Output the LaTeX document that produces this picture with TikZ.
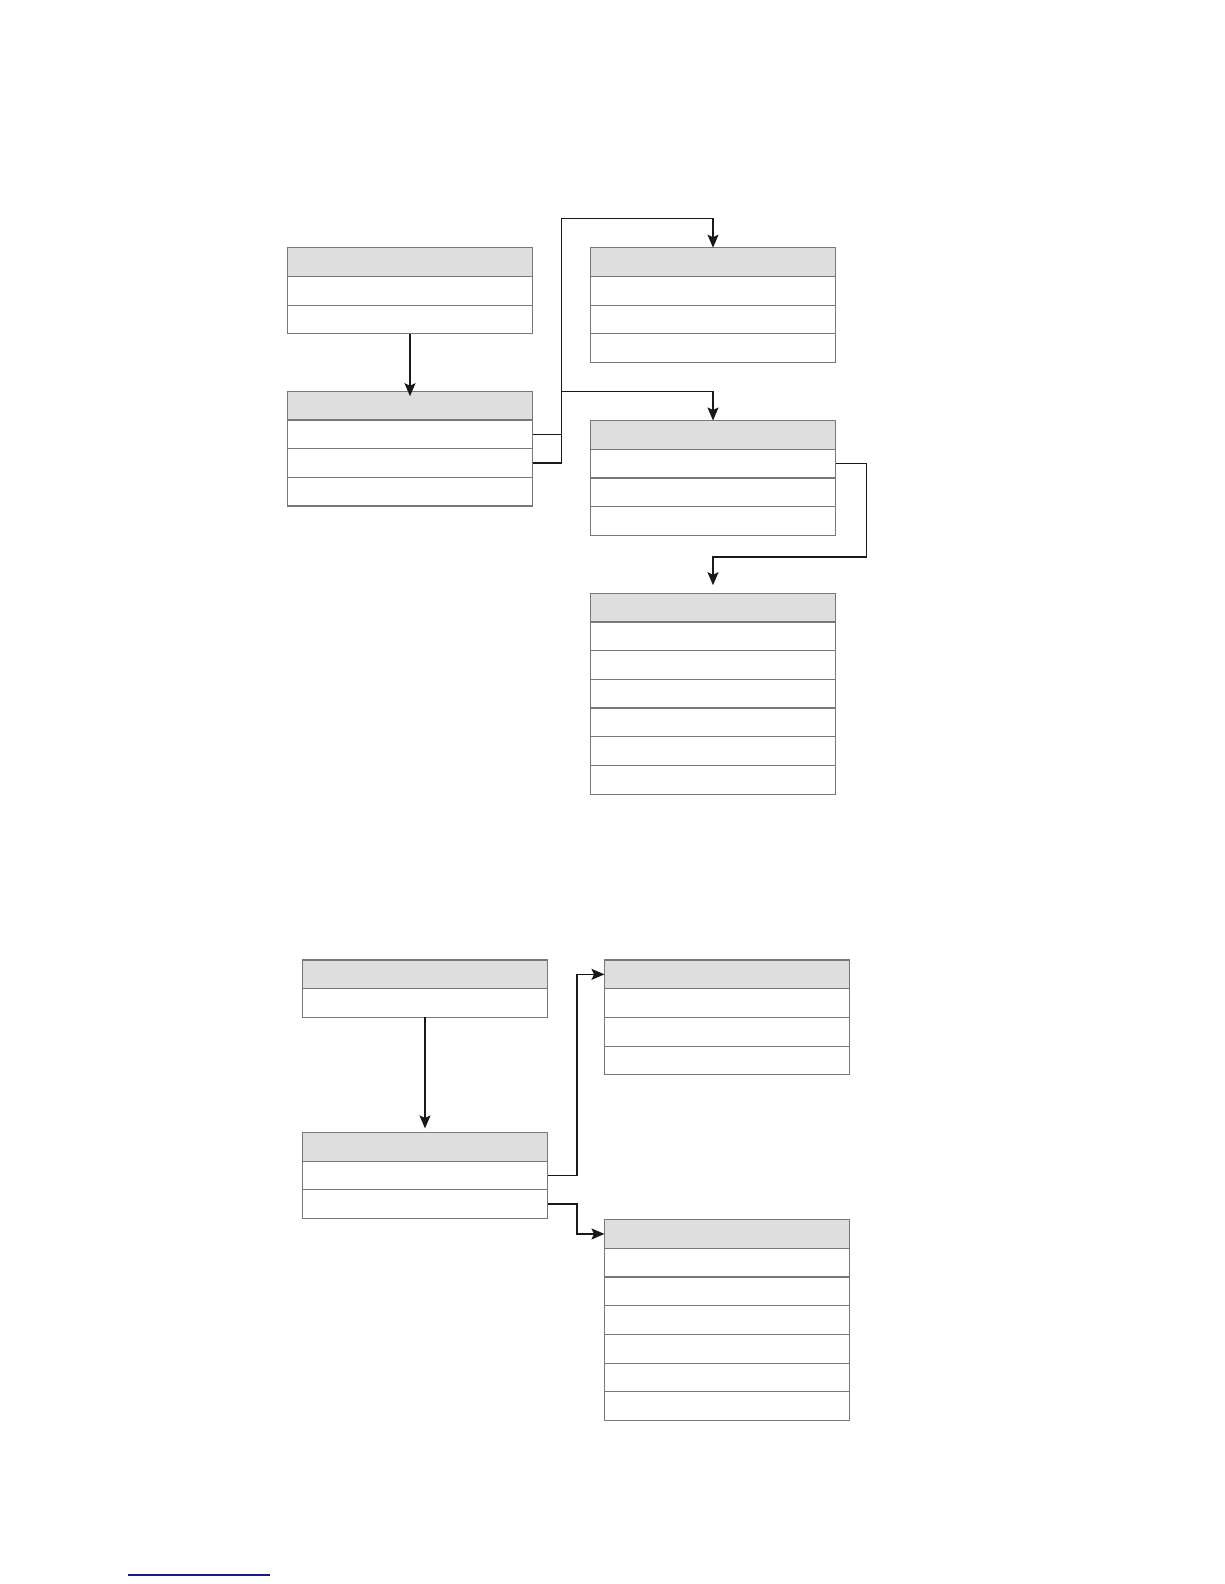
\documentclass[tikz,border=0pt]{standalone}
\usetikzlibrary{positioning,arrows.meta}
\definecolor{hdrgray}{HTML}{DEDEDE}
\definecolor{tblline}{HTML}{787878}
\definecolor{linkblue}{HTML}{1A1A80}
\tikzset{
  hdr/.style={draw=tblline, fill=hdrgray, line width=1.2pt, minimum width=245pt, minimum height=28.7pt, inner sep=0pt, outer sep=0pt},
  cell/.style={hdr, fill=white},
  link/.style={draw=black!90, line width=1.4pt, -{Stealth[length=13pt,width=11pt,inset=2.5pt]}},
}
% name, left x, top y, number of rows under the header
\newcommand\dbtable[4]{%
  \node[hdr, anchor=north west] (#1-0) at (#2,#3) {};
  \foreach \r [count=\p from 0] in {1,...,#4}
    \node[cell, below=0pt of #1-\p] (#1-\r) {};
}

\begin{document}
\begin{tikzpicture}[x=1pt, y=-1pt]
  \useasboundingbox (0,0) rectangle (1224,1584);

  %%%%% TOP %%%%%
  \dbtable{A}{287.5}{247.7}{2}
  \dbtable{B}{287.5}{391.2}{3}
  \dbtable{C}{590.5}{247.7}{3}
  \dbtable{D}{590.5}{420.5}{3}
  \dbtable{E}{590.5}{593.2}{6}

  \draw[link] (A-2.south) -- ([yshift=-5pt]B-0.north);
  \draw[link] (B-1.east) -- ++(29.2,0) |- ([yshift=29.3pt]D-0.north) -- (D-0.north);
  \draw[link] (B-2.east) -- ++(29.2,0) |- ([yshift=29.4pt]C-0.north) -- (C-0.north);
  \draw[link] (D-1.east) -- ++(31,0) |- ([yshift=36.3pt]E-0.north) -- ([yshift=8pt]E-0.north);

  %%%%% BOTTOM %%%%%
  \dbtable{F}{302.5}{960}{1}
  \dbtable{G}{302.5}{1132.4}{2}
  \dbtable{H}{604.5}{960}{3}
  \dbtable{I}{604.5}{1219.6}{6}

  \draw[link] (F-1.south) -- ([yshift=4pt]G-0.north);
  \draw[link] (G-1.east) -- ++(29.4,0) |- (H-0.west);
  \draw[link] (G-2.east) -- ++(29.4,0) |- (I-0.west);

  \draw[linkblue, line width=1.3pt] (127.5,1575) -- (269.5,1575);
\end{tikzpicture}
\end{document}
